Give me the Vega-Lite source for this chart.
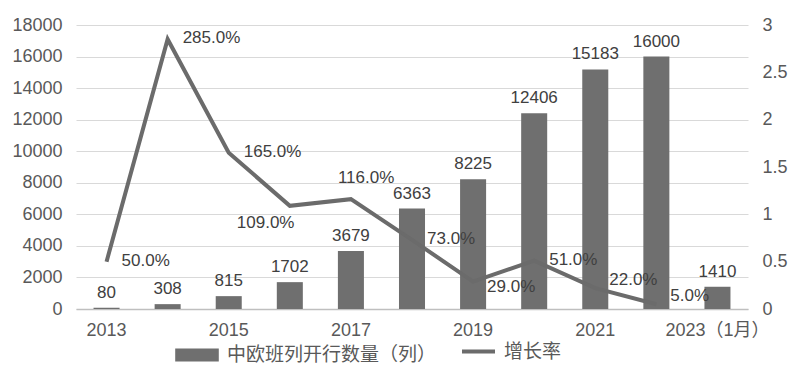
{
  "$schema": "https://vega.github.io/schema/vega-lite/v6.json",
  "width": 672,
  "height": 284,
  "autosize": "none",
  "padding": {"left": 76, "top": 25, "right": 52, "bottom": 63},
  "background": "white",
  "config": {
    "view": {"stroke": null},
    "font": "Liberation Sans, Noto Sans CJK SC",
    "axis": {"labelFont": "Liberation Sans, Noto Sans CJK SC", "labelFontSize": 18, "labelColor": "#595959", "ticks": false, "title": null, "labelOverlap": false},
    "legend": {"labelFont": "Noto Sans CJK SC", "labelFontSize": 19, "labelColor": "#595959", "title": null, "labelLimit": 400}
  },
  "data": {
    "values": [
      {"year": "2013", "count": 80, "rate": 0.5},
      {"year": "2014", "count": 308, "rate": 2.85},
      {"year": "2015", "count": 815, "rate": 1.65},
      {"year": "2016", "count": 1702, "rate": 1.09},
      {"year": "2017", "count": 3679, "rate": 1.16},
      {"year": "2018", "count": 6363, "rate": 0.73},
      {"year": "2019", "count": 8225, "rate": 0.29},
      {"year": "2020", "count": 12406, "rate": 0.51},
      {"year": "2021", "count": 15183, "rate": 0.22},
      {"year": "2022", "count": 16000, "rate": 0.05},
      {"year": "2023（1月）", "count": 1410, "rate": null}
    ]
  },
  "encoding": {
    "x": {
      "field": "year", "type": "ordinal", "sort": null,
      "scale": {"paddingInner": 0.574, "paddingOuter": 0.287},
      "axis": {"labelAngle": 0, "values": ["2013", "2015", "2017", "2019", "2021", "2023（1月）"], "labelPadding": 12, "domainColor": "#bfbfbf", "domainWidth": 1.5, "grid": false}
    }
  },
  "layer": [
    {
      "encoding": {
        "y": {"field": "count", "type": "quantitative", "scale": {"domain": [0, 18000]},
          "axis": {"orient": "left", "values": [0, 2000, 4000, 6000, 8000, 10000, 12000, 14000, 16000, 18000], "format": "d", "grid": true, "gridColor": "#d9d9d9", "gridWidth": 1, "domain": false, "labelPadding": 14}}
      },
      "layer": [
        {
          "mark": {"type": "bar"},
          "encoding": {
            "fill": {"datum": "中欧班列开行数量（列）", "scale": {"range": ["#6f6f6f"]},
              "legend": {"orient": "none", "legendX": 99, "legendY": 308, "direction": "horizontal", "symbolType": "M-1,-0.3H1V0.3H-1Z", "symbolSize": 1900, "symbolStrokeWidth": 0, "labelOffset": 8}}
          }
        },
        {
          "mark": {"type": "text", "baseline": "bottom", "dy": -6, "fontSize": 17, "color": "#404040"},
          "encoding": {
            "text": {"field": "count", "type": "quantitative", "format": "d"}
          }
        }
      ]
    },
    {
      "encoding": {
        "y": {"field": "rate", "type": "quantitative", "scale": {"domain": [0, 3]},
          "axis": {"orient": "right", "values": [0, 0.5, 1, 1.5, 2, 2.5, 3], "format": "~g", "grid": false, "domain": false, "labelPadding": 14}}
      },
      "layer": [
        {
          "mark": {"type": "line", "strokeWidth": 4},
          "encoding": {
            "stroke": {"datum": "增长率", "scale": {"range": ["#6b6b6b"]},
              "legend": {"orient": "none", "legendX": 384, "legendY": 308, "direction": "horizontal", "symbolType": "stroke", "symbolSize": 1089, "symbolStrokeWidth": 4, "labelOffset": 7}}
          }
        },
        {
          "transform": [{"filter": "indexof(['2013','2014','2015','2018','2020'], datum.year) >= 0"}],
          "mark": {"type": "text", "align": "left", "baseline": "middle", "dx": 15, "dy": -1, "fontSize": 17, "color": "#404040"},
          "encoding": {"text": {"field": "rate", "type": "quantitative", "format": ".1%"}}
        },
        {
          "transform": [{"filter": "datum.year == '2019'"}],
          "mark": {"type": "text", "align": "left", "baseline": "middle", "dx": 14, "dy": 5, "fontSize": 17, "color": "#404040"},
          "encoding": {"text": {"field": "rate", "type": "quantitative", "format": ".1%"}}
        },
        {
          "transform": [{"filter": "datum.year == '2021' || datum.year == '2022'"}],
          "mark": {"type": "text", "align": "left", "baseline": "middle", "dx": 14, "dy": -8, "fontSize": 17, "color": "#404040"},
          "encoding": {"text": {"field": "rate", "type": "quantitative", "format": ".1%"}}
        },
        {
          "transform": [{"filter": "datum.year == '2016'"}],
          "mark": {"type": "text", "align": "left", "baseline": "middle", "dx": -53, "dy": 17, "fontSize": 17, "color": "#404040"},
          "encoding": {"text": {"field": "rate", "type": "quantitative", "format": ".1%"}}
        },
        {
          "transform": [{"filter": "datum.year == '2017'"}],
          "mark": {"type": "text", "align": "left", "baseline": "middle", "dx": -13, "dy": -21, "fontSize": 17, "color": "#404040"},
          "encoding": {"text": {"field": "rate", "type": "quantitative", "format": ".1%"}}
        }
      ]
    }
  ],
  "resolve": {"scale": {"y": "independent"}}
}
